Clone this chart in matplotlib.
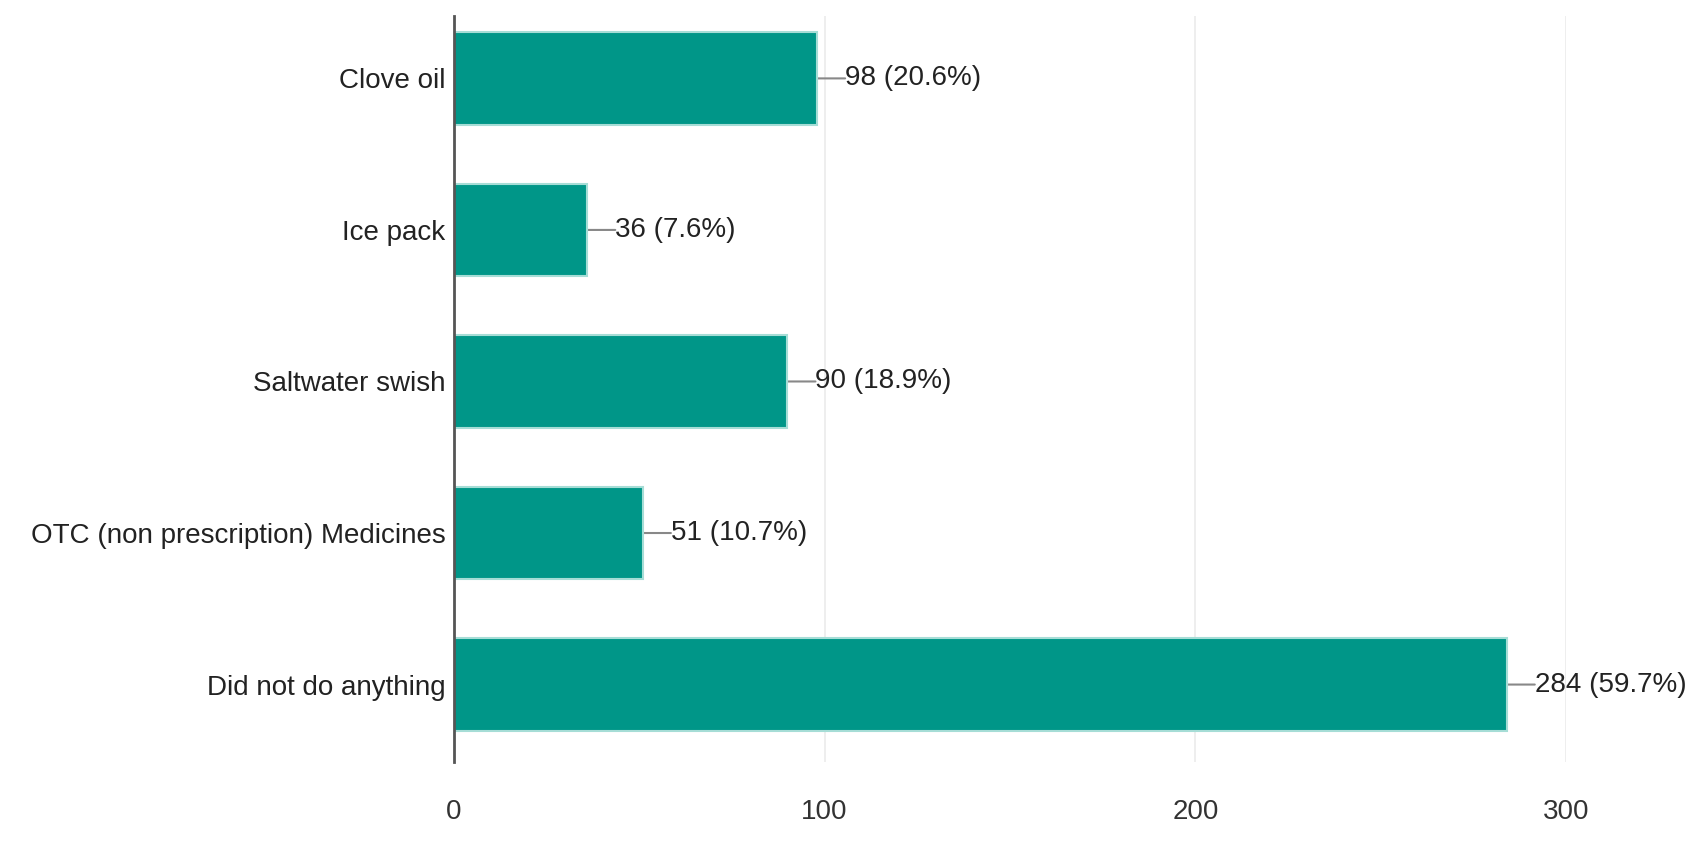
import matplotlib.pyplot as plt

# data
categories = ['Clove oil', 'Ice pack', 'Saltwater swish',
              'OTC (non prescription) Medicines', 'Did not do anything']
counts = [98, 36, 90, 51, 284]
percents = [20.6, 7.6, 18.9, 10.7, 59.7]
xticks = [0, 100, 200, 300]

plt.rcParams['font.family'] = ['Liberation Sans', 'DejaVu Sans']

fig = plt.figure(figsize=(17.06, 8.56), dpi=100)
ax = fig.add_axes([0.266, 0.110, 0.652, 0.871])

ypos = list(range(len(categories)))
ax.barh(ypos, counts, height=0.61, color='#009688', edgecolor='#a6ddd6',
        linewidth=1.5, zorder=3)

# value labels with little connector lines
for y, c, p in zip(ypos, counts, percents):
    ax.annotate('', xy=(c, y), xytext=(28, 0), textcoords='offset pixels',
                arrowprops=dict(arrowstyle='-', color='#888888', lw=1.5,
                                shrinkA=0, shrinkB=0), zorder=2)
    ax.annotate('%d (%.1f%%)' % (c, p), xy=(c, y), xytext=(28, 0),
                textcoords='offset pixels', va='center', ha='left',
                fontsize=20, color='#222222')

ax.set_ylim(len(categories) - 0.49, -0.41)
ax.set_xlim(0, 300)
ax.set_yticks(ypos)
ax.set_yticklabels(categories, fontsize=20, color='#222222')
ax.set_xticks(xticks)
ax.set_xticklabels([str(t) for t in xticks], fontsize=20, color='#333333')
ax.tick_params(axis='both', length=0)
ax.tick_params(axis='y', pad=6)
ax.tick_params(axis='x', pad=27)

ax.grid(axis='x', color='#ebebeb', lw=1.2, zorder=0)
for s in ['top', 'right', 'bottom']:
    ax.spines[s].set_visible(False)
ax.spines['left'].set_color('#555555')
ax.spines['left'].set_linewidth(2)
ax.spines['left'].set_zorder(4)

fig.savefig('out.png', dpi=100)
